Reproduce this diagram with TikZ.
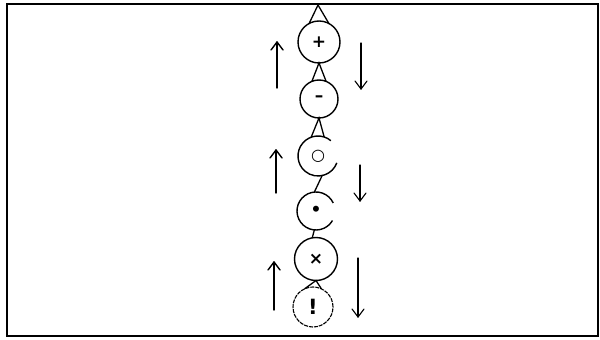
\documentclass[tikz,border=0pt]{standalone}
\usepackage{fontspec}
\newfontfamily\symf{DejaVu Sans}
\begin{document}
\begin{tikzpicture}[x=1pt,y=1pt,
  frame/.style={line width=2pt},
  ball/.style={circle, draw, line width=1.4pt, inner sep=0pt, outer sep=0pt, font=\symf\bfseries\fontsize{17}{17}\selectfont},
  openball/.style={circle, inner sep=0pt, outer sep=0pt, font=\symf\bfseries\fontsize{17}{17}\selectfont},
  rim/.style={line width=1.4pt},
  neck/.style={line width=1.3pt},
  upshaft/.style={line width=1.4pt, line cap=round, line join=round},
  downshaft/.style={line width=1.1pt, line cap=round, line join=round}]
\useasboundingbox (0,0) rectangle (600,340);
\draw[frame] (7,4) rectangle (598,336);

% circles
\node[ball, minimum size=42pt] (c1) at (319,298) {+};
\node[ball, minimum size=38pt] (c2) at (319,241) {–};
\node[openball, minimum size=40pt, font=\symf\fontsize{16}{16}\selectfont] (c3) at (318,184) {○};
\node[openball, minimum size=38pt] (c4) at (316,129) {\raisebox{1pt}{•}};
\node[ball, minimum size=43pt] (c5) at (316,81) {×};
\node[ball, minimum size=40pt, line width=1.1pt, dash pattern=on 4pt off 1pt, font=\symf\bfseries\fontsize{21}{21}\selectfont] (c6) at (313,33) {!};

% open rims
\draw[rim] (c3.50) arc[start angle=50, end angle=340, radius=20pt];
\draw[rim] (c4.25) arc[start angle=25, end angle=330, radius=19pt];

% necks
\coordinate (t0) at (318,335);
\draw[neck] (c1.118) -- (t0) -- (c1.62);
\draw[neck] (c2.112) -- (c1.south) -- (c2.68);
\draw[neck] (c3.110) -- (c2.south) -- (c3.72);
\draw[neck] (c3.-78) -- (c4.95);
\draw[neck] (c4.-95) -- (c5.100);
\draw[neck] (c6.115) -- (c5.south) -- (c6.65);

% arrows
\coordinate (u1a) at (277,252); \coordinate (u1b) at (277,298);
\coordinate (u2a) at (276,147); \coordinate (u2b) at (276,190);
\coordinate (u3a) at (274,30);  \coordinate (u3b) at (274,78);
\coordinate (d1a) at (361,297); \coordinate (d1b) at (361,251);
\coordinate (d2a) at (360,175); \coordinate (d2b) at (360,139);
\coordinate (d3a) at (358,82);  \coordinate (d3b) at (358,23);
\foreach \a/\b in {u1a/u1b, u2a/u2b, u3a/u3b}{
  \draw[upshaft] (\a) -- (\b);
  \draw[upshaft] (\b) ++(-6,-8) -- (\b) -- ++(6,-8);
}
\foreach \a/\b in {d1a/d1b, d2a/d2b, d3a/d3b}{
  \draw[downshaft] (\a) -- (\b);
  \draw[downshaft] (\b) ++(-6,8) -- (\b) -- ++(6,8);
}
\end{tikzpicture}
\end{document}
